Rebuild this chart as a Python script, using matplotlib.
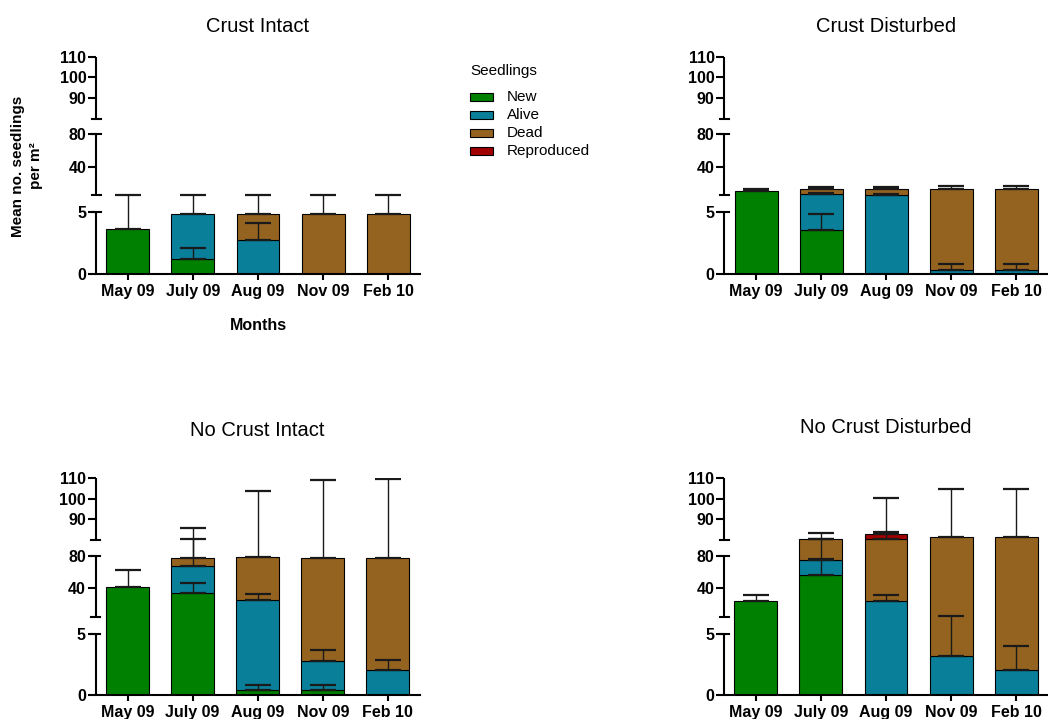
import numpy as np
import matplotlib
matplotlib.use("Agg")
import matplotlib.pyplot as plt
from matplotlib.patches import Rectangle

plt.rcParams['font.family'] = ['Liberation Sans', 'DejaVu Sans']

months = ["May 09", "July 09", "Aug 09", "Nov 09", "Feb 10"]
groups = ["New", "Alive", "Dead", "Reproduced"]
colors = ["#008000", "#0a7f99", "#956320", "#a00000"]
y_ticks = [0, 5, 40, 80, 90, 100, 110]

# mean seedlings per m2, rows = New, Alive, Dead, Reproduced
crust_intact_mean = [[3.6, 1.2, 0, 0, 0],
                     [0, 3.63, 2.77, 0, 0],
                     [0, 0, 2.06, 4.83, 4.83],
                     [0, 0, 0, 0, 0]]
crust_intact_sd = [[2.0, 0.85, 0, 0, 0],
                   [0, 0.77, 1.35, 0, 0],
                   [0, 0, 0.77, 0.77, 0.77],
                   [0, 0, 0, 0, 0]]

crust_disturbed_mean = [[10.0, 3.58, 0, 0, 0],
                        [0, 3.62, 5.2, 0.33, 0.33],
                        [0, 6.1, 8.1, 12.97, 12.97],
                        [0, 0, 0, 0, 0]]
crust_disturbed_sd = [[2.9, 1.24, 0, 0, 0],
                      [0, 1.2, 1.15, 0.45, 0.45],
                      [0, 2.5, 2.0, 3.2, 3.2],
                      [0, 0, 0, 0, 0]]

nocrust_intact_mean = [[41.6, 34.6, 0.41, 0.41, 0],
                       [0, 32.8, 25.2, 2.38, 2.0],
                       [0, 9.3, 52.3, 74.4, 75.2],
                       [0, 0, 0, 0, 0]]
nocrust_intact_sd = [[21.2, 11.9, 0.37, 0.37, 0],
                     [0, 13.2, 6.9, 0.84, 0.81],
                     [0, 9.1, 25.6, 32.0, 32.1],
                     [0, 0, 0, 0, 0]]

nocrust_disturbed_mean = [[23.9, 55.8, 0, 0, 0],
                          [0, 18.9, 24.4, 3.17, 2.0],
                          [0, 5.9, 56.2, 78.1, 79.3],
                          [0, 0, 2.3, 0, 0]]
nocrust_disturbed_sd = [[7.4, 20.1, 0, 0, 0],
                        [0, 5.9, 7.3, 2.33, 1.98],
                        [0, 2.6, 3.4, 23.2, 23.5],
                        [0, 0, 17.2, 0, 0]]

# broken y axis: 0-5, 5-80 and 80-110, each segment in its own band
SEG_V = [0, 61.5, 78.2, 139.3, 155.0, 217.0]
SEG_Y = [0, 5, 5, 80, 80, 110]


def fwd(y):
    y = np.asarray(y, dtype=float)
    low = y * SEG_V[1] / 5
    mid = SEG_V[2] + (y - 5) * (SEG_V[3] - SEG_V[2]) / 75
    top = SEG_V[4] + (y - 80) * (SEG_V[5] - SEG_V[4]) / 30
    return np.where(y <= 5, low, np.where(y <= 80, mid, top))


def inv(v):
    v = np.asarray(v, dtype=float)
    return np.interp(v, SEG_V, SEG_Y)


W, H = 1048, 719
fig = plt.figure(figsize=(W / 100, H / 100), dpi=100)


def panel(left, top, title, title_y, means, sds):
    ax = fig.add_axes([left / W, 1 - (top + 217) / H, 324 / W, 217 / H])
    ax.set_yscale('function', functions=(fwd, inv))
    ax.set_ylim(0, 110)
    ax.set_xlim(-0.49, 4.49)
    x = np.arange(len(months))
    bottom = np.zeros(len(months))
    tops = []
    for i in range(len(groups)):
        m = np.array(means[i], dtype=float)
        keep = m > 0
        ax.bar(x[keep], m[keep], bottom=bottom[keep], width=0.66,
               color=colors[i], edgecolor='black', linewidth=0.8, zorder=2)
        bottom = bottom + m
        tops.append(bottom.copy())
    for i in range(len(groups)):
        sd = np.array(sds[i], dtype=float)
        keep = sd > 0
        if keep.any():
            ax.errorbar(x[keep], tops[i][keep], yerr=[np.zeros(keep.sum()), sd[keep]],
                        fmt='none', ecolor='#1a1a1a', elinewidth=1.0,
                        capsize=9.5, capthick=1.6, zorder=3)

    # axis segments with end caps
    ax.spines['left'].set_visible(False)
    ax.spines['top'].set_visible(False)
    ax.spines['right'].set_visible(False)
    ax.spines['bottom'].set_linewidth(1.5)
    yt = ax.get_yaxis_transform()
    eps = 1e-6
    cw = 4.5 / 324
    for y0, y1 in [(0, 5), (5 + eps, 80), (80 + eps, 110)]:
        ax.plot([0, 0], [y0, y1], color='black', lw=1.5, transform=yt,
                clip_on=False, solid_capstyle='butt', zorder=4)
    for yc in [5, 5 + eps, 80, 80 + eps]:
        ax.plot([-cw, cw], [yc, yc], color='black', lw=1.5, transform=yt,
                clip_on=False, zorder=4)

    ax.set_yticks(y_ticks)
    ax.set_yticklabels([str(t) for t in y_ticks], fontweight='bold', fontsize=11.5)
    ax.yaxis.set_minor_locator(matplotlib.ticker.NullLocator())
    ax.tick_params(axis='y', length=5.5, width=1.5, pad=1.5)
    ax.set_xticks(x)
    ax.set_xticklabels(months, fontweight='bold', fontsize=11.5)
    ax.tick_params(axis='x', length=4.5, width=1.5, pad=3)

    fig.text((left + 162) / W, 1 - title_y / H, title, ha='center', va='center',
             fontsize=14.5)
    return ax


panel(96, 56.7, "Crust Intact", 26, crust_intact_mean, crust_intact_sd)
panel(724.3, 56.7, "Crust Disturbed", 26, crust_disturbed_mean, crust_disturbed_sd)
panel(95.7, 478, "No Crust Intact", 431, nocrust_intact_mean, nocrust_intact_sd)
panel(724, 478, "No Crust Disturbed", 427.5, nocrust_disturbed_mean, nocrust_disturbed_sd)

fig.text(27 / W, 1 - 166 / H, "Mean no. seedlings\nper m\u00b2", rotation=90,
         ha='center', va='center', multialignment='center',
         fontweight='bold', fontsize=11, linespacing=1.3)
fig.text(258 / W, 1 - 325 / H, "Months", ha='center', va='center',
         fontweight='bold', fontsize=11.5)

# legend
fig.text(470 / W, 1 - 71 / H, "Seedlings", ha='left', va='center', fontsize=11)
for i, (name, c) in enumerate(zip(groups, colors)):
    yc = 97 + 18 * i
    fig.add_artist(Rectangle((470 / W, 1 - (yc + 3.6) / H), 23 / W, 7.2 / H,
                             facecolor=c, edgecolor='black', linewidth=0.8,
                             transform=fig.transFigure))
    fig.text(507 / W, 1 - yc / H, name, ha='left', va='center', fontsize=11)

fig.savefig("out.png", dpi=100)
